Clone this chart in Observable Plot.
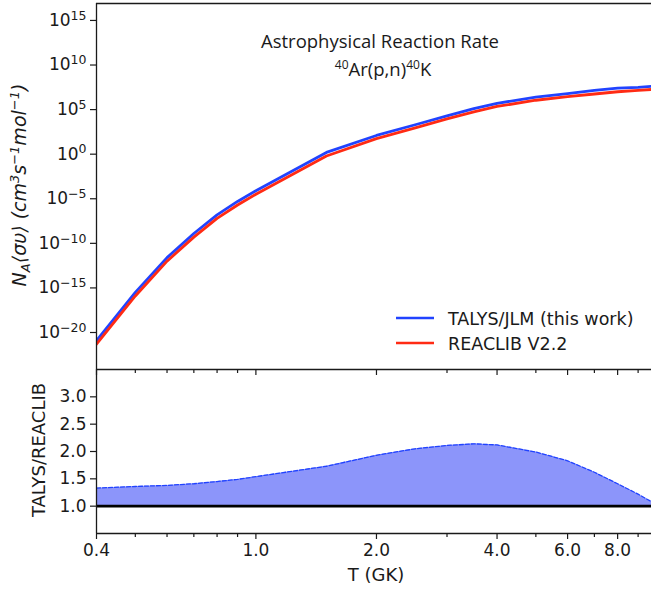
<!DOCTYPE html>
<html><head><meta charset="utf-8">
<script src="https://cdn.jsdelivr.net/npm/d3@7"></script>
<script src="https://cdn.jsdelivr.net/npm/@observablehq/plot@0.6"></script>
<style>
html,body{margin:0;padding:0;background:#fff;overflow:hidden;}
#wrap{position:relative;width:651px;height:592px;}
#wrap > svg{position:absolute;left:0;}
</style></head><body><div id="wrap"></div>
<script>
// ---- data ----
const temperatures   = [0.4, 0.5, 0.6, 0.7, 0.8, 0.9, 1.0, 1.5, 2.0, 2.5, 3.0, 3.5, 4.0, 5.0, 6.0, 7.0, 8.0, 9.0, 10.0];
const talysLog10     = [-20.9, -15.5, -11.6, -8.9, -6.8, -5.3, -4.1, 0.2, 2.1, 3.3, 4.3, 5.1, 5.7, 6.4, 6.8, 7.15, 7.4, 7.5, 7.65];
const reaclibLog10   = [-21.3, -15.9, -12.0, -9.3, -7.2, -5.7, -4.5, -0.2, 1.75, 2.95, 3.95, 4.75, 5.35, 6.05, 6.45, 6.75, 7.0, 7.15, 7.3];
const ratioValues    = [1.33, 1.36, 1.38, 1.41, 1.45, 1.49, 1.54, 1.73, 1.93, 2.05, 2.11, 2.14, 2.12, 1.99, 1.83, 1.62, 1.41, 1.22, 1.03];
const rateTickExponents = [-20, -15, -10, -5, 0, 5, 10, 15];
const ratioTicks     = [1.0, 1.5, 2.0, 2.5, 3.0];
const tMajorTicks    = [0.4, 1, 2, 4, 6, 8];
const tMinorTicks    = [0.5, 0.6, 0.7, 0.8, 0.9, 3, 5, 7, 9];
const seriesNames    = ["TALYS/JLM (this work)", "REACLIB V2.2"];
const seriesColors   = ["#2143ff", "#ff2b14"];

// ---- tables ----
const rates = [];
temperatures.forEach((t, i) => {
  rates.push({T: t, rate: 10 ** talysLog10[i], series: seriesNames[0]});
  rates.push({T: t, rate: 10 ** reaclibLog10[i], series: seriesNames[1]});
});
const ratios = temperatures.map((t, i) => ({T: t, ratio: ratioValues[i]}));

const W = 651, LEFT = 96;
const X_DOMAIN = [0.4, 9.72];
const spine = {stroke: "#1a1a1a", strokeWidth: 1.3};
const Y_TOP = 10 ** 16.9, Y_BOT = 10 ** -24.15;
const font = "DejaVu Sans";

const topPlot = Plot.plot({
  width: W, height: 379, marginLeft: LEFT, marginRight: 0, marginTop: 3, marginBottom: 10,
  style: {background: "transparent", fontFamily: font, color: "#1a1a1a", overflow: "visible"},
  x: {type: "log", domain: X_DOMAIN},
  y: {type: "log", domain: [Y_BOT, Y_TOP]},
  color: {domain: seriesNames, range: seriesColors},
  marks: [
    Plot.line(rates, {x: "T", y: "rate", z: "series", stroke: "series", strokeWidth: 2.8, clip: true}),
    Plot.ruleX([X_DOMAIN[0]], spine),
    Plot.ruleY([Y_TOP], spine),
    Plot.ruleY([Y_BOT], spine),
    Plot.axisY(rateTickExponents.map(e => 10 ** e), {tickSize: 6, tickPadding: 4, fontSize: 17, strokeWidth: 1.2,
      tickFormat: v => "10^" + Math.round(Math.log10(v)), label: null}),
    Plot.axisX(tMajorTicks, {tickSize: 6, strokeWidth: 1.2, tickFormat: () => "", label: null}),
    Plot.axisX(tMinorTicks, {tickSize: 4, strokeWidth: 1.2, tickFormat: () => "", label: null})
  ]
});
topPlot.style.top = "0px";

// superscript exponents on the rate axis
d3.select(topPlot).selectAll("text").each(function() {
  const m = /^10\^(-?\d+)$/.exec(this.textContent);
  if (m) {
    const el = d3.select(this);
    el.text("10");
    el.append("tspan").attr("dy", "-0.5em").attr("font-size", "12.5px").text(m[1].replace("-", "\u2212"));
  }
});

const bottomPlot = Plot.plot({
  width: W, height: 223, marginLeft: LEFT, marginRight: 0, marginTop: 0, marginBottom: 59,
  style: {background: "transparent", fontFamily: font, color: "#1a1a1a", overflow: "visible"},
  x: {type: "log", domain: X_DOMAIN},
  y: {domain: [0.5, 3.5]},
  marks: [
    Plot.areaY(ratios, {x: "T", y1: 1, y2: "ratio", fill: "#8c95fa", clip: true}),
    Plot.lineY(ratios, {x: "T", y: "ratio", stroke: "#2143ff", strokeWidth: 1.3, strokeDasharray: "4,2", clip: true}),
    Plot.ruleY([1], {stroke: "#000", strokeWidth: 2.6}),
    Plot.ruleX([X_DOMAIN[0]], spine),
    Plot.ruleY([0.5], spine),
    Plot.axisY(ratioTicks, {tickSize: 6, tickPadding: 4, fontSize: 17, strokeWidth: 1.2, tickFormat: d3.format(".1f"), label: null}),
    Plot.axisX(tMajorTicks, {tickSize: 6, strokeWidth: 1.2, tickFormat: () => "", label: null}),
    Plot.axisX(tMinorTicks, {tickSize: 4, strokeWidth: 1.2, tickFormat: () => "", label: null}),
    Plot.text(tMajorTicks, {x: d => d, text: d3.format(".1f"), frameAnchor: "bottom", lineAnchor: "top",
      dy: 10, fontSize: 17, fill: "#1a1a1a"})
  ]
});
bottomPlot.style.top = "369px";

const wrap = document.getElementById("wrap");
wrap.appendChild(bottomPlot);
wrap.appendChild(topPlot);

// ---- annotations: title, axis labels, legend ----
const ov = d3.create("svg").attr("width", W).attr("height", 592)
  .style("position", "absolute").style("top", "0px").style("left", "0px").style("pointer-events", "none")
  .attr("font-family", font).attr("fill", "#1a1a1a");

ov.append("text").attr("x", 380).attr("y", 48).attr("text-anchor", "middle")
  .attr("font-family", "Open Sans").attr("font-size", 18.5).text("Astrophysical Reaction Rate");
const sub = ov.append("text").attr("x", 383).attr("y", 76).attr("text-anchor", "middle")
  .attr("font-family", "Open Sans").attr("font-size", 18.5);
sub.append("tspan").attr("font-size", 12).attr("dy", -7).text("40");
sub.append("tspan").attr("dy", 7).text("Ar(p,n)");
sub.append("tspan").attr("font-size", 12).attr("dy", -7).text("40");
sub.append("tspan").attr("dy", 7).text("K");

// top y label
const yl = ov.append("text").attr("transform", "translate(26,185) rotate(-90)")
  .attr("text-anchor", "middle").attr("font-size", 19).attr("font-style", "italic");
yl.append("tspan").text("N");
yl.append("tspan").attr("font-size", 13).attr("dy", 4).text("A");
yl.append("tspan").attr("dy", -4).text("\u27e8\u03c3\u03c5\u27e9 (cm");
yl.append("tspan").attr("font-size", 13).attr("dy", -7).text("3");
yl.append("tspan").attr("dy", 7).text("s");
yl.append("tspan").attr("font-size", 13).attr("dy", -7).text("\u22121");
yl.append("tspan").attr("dy", 7).text("mol");
yl.append("tspan").attr("font-size", 13).attr("dy", -7).text("\u22121");
yl.append("tspan").attr("dy", 7).text(")");

// bottom y label
ov.append("text").attr("transform", "translate(45,450) rotate(-90)")
  .attr("text-anchor", "middle").attr("font-size", 18).text("TALYS/REACLIB");
// x label
ov.append("text").attr("x", 376).attr("y", 581).attr("text-anchor", "middle").attr("font-size", 18).text("T (GK)");

// legend
seriesNames.forEach((name, i) => {
  const y = 318 + i * 25;
  ov.append("line").attr("x1", 396).attr("x2", 434).attr("y1", y).attr("y2", y)
    .attr("stroke", seriesColors[i]).attr("stroke-width", 2.4);
  ov.append("text").attr("x", 448).attr("y", y + 7).attr("font-size", 17.5).text(name);
});

wrap.appendChild(ov.node());
</script>
</body></html>
